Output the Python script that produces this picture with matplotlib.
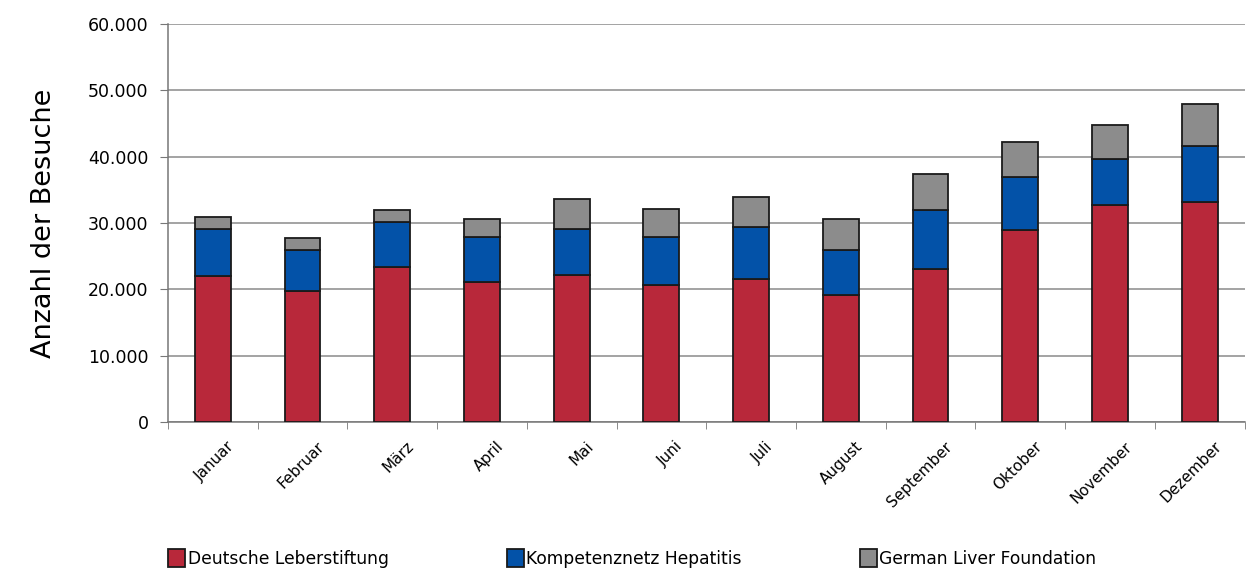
import numpy as np
from matplotlib import pyplot as plt
from matplotlib.ticker import FuncFormatter, FixedLocator
from matplotlib.transforms import ScaledTranslation

months = ['Januar', 'Februar', 'März', 'April', 'Mai', 'Juni', 'Juli',
          'August', 'September', 'Oktober', 'November', 'Dezember']
series_names = ['Deutsche Leberstiftung', 'Kompetenznetz Hepatitis',
                'German Liver Foundation']
# segment heights
leber = [22000, 19800, 23400, 21100, 22100, 20650, 21500, 19200, 23000, 28950, 32700, 33200]
kompetenz = [7050, 6100, 6800, 6800, 7000, 7250, 7950, 6700, 8950, 8050, 6950, 8450]
german = [1900, 1800, 1800, 2750, 4500, 4150, 4450, 4750, 5450, 5200, 5150, 6250]

COLORS = ['#B8283A', '#0352A8', '#8C8C8C']

fig = plt.figure(figsize=(12.47, 5.73), dpi=100)
ax = fig.add_axes([0.1347, 0.2635, 0.8633, 0.6945])

x = np.arange(len(months))
bottom = np.zeros(len(months))
for vals, name, col in zip([leber, kompetenz, german], series_names, COLORS):
    ax.bar(x, vals, width=0.4, bottom=bottom, color=col, edgecolor='#1a1a1a',
           linewidth=1.3, label=name, zorder=3)
    bottom += np.array(vals)

ax.set_xlim(-0.5, len(months) - 0.5)
ax.set_ylim(0, 60000)
ax.set_yticks(range(0, 60001, 10000))
ax.yaxis.set_major_formatter(FuncFormatter(lambda v, p: f'{int(v):,}'.replace(',', '.')))
ax.grid(axis='y', color='#8a8a8a', linewidth=1.1, zorder=0)
for s in ['top', 'right']:
    ax.spines[s].set_visible(False)
for s in ['left', 'bottom']:
    ax.spines[s].set_color('#777777')
    ax.spines[s].set_linewidth(1.1)

ax.tick_params(axis='y', direction='out', length=6, color='#777777',
               labelsize=12.5, pad=8)
ax.set_xticks(x)
ax.set_xticklabels(months, rotation=45, ha='right', rotation_mode='anchor',
                   fontsize=11)
ax.tick_params(axis='x', which='major', length=0, pad=10)
ax.xaxis.set_minor_locator(FixedLocator(np.arange(-0.5, len(months), 1.0)))
ax.tick_params(axis='x', which='minor', direction='out', length=5, color='#777777')
shift = ScaledTranslation(0.14, -0.03, fig.dpi_scale_trans)
for t in ax.get_xticklabels():
    t.set_transform(t.get_transform() + shift)

ax.set_ylabel('Anzahl der Besuche', fontsize=19.5, labelpad=22)

fig.legend(loc='lower left', bbox_to_anchor=(0.1225, -0.018), ncol=3,
           frameon=False, fontsize=12.3, handlelength=1.0, handleheight=1.2,
           handletextpad=0.15, columnspacing=6.9)

plt.savefig('out.png', dpi=100)
plt.close()
